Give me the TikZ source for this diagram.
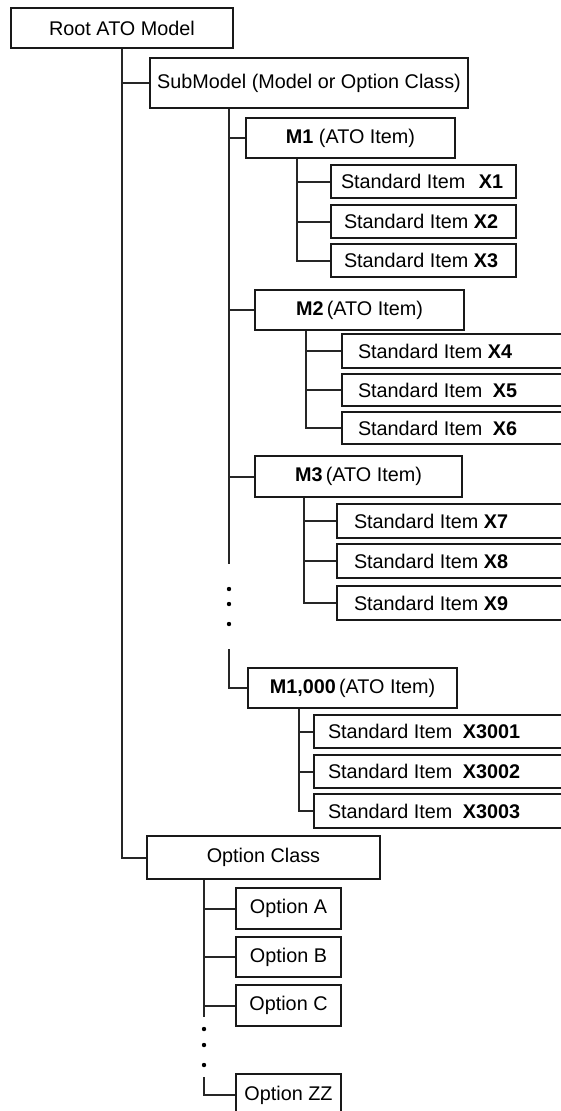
\documentclass[tikz,border=0pt]{standalone}
\usepackage{fontspec}
\setmainfont{Liberation Sans}
\usetikzlibrary{calc}
\newcommand{\stditem}[3]{\makebox[#1pt][l]{\hspace{#2pt}#3}}
\tikzset{
  box/.style={draw=black!90, line width=2pt, rectangle, anchor=north west,
    inner sep=0pt, font=\fontsize{19.8}{23}\selectfont},
  conn/.style={draw=black!85, line width=2pt},
  dotmark/.style={fill=black}
}
\begin{document}
\begin{tikzpicture}[x=1pt,y=-1pt]
\useasboundingbox (0,0) rectangle (561,1111);
\clip (0,0) rectangle (561,1111);
\fill[white] (0,0) rectangle (561,1111);

% top levels
\node[box, minimum width=222pt, minimum height=40pt] (root) at (10,7) {Root ATO Model};
\node[box, minimum width=318pt, minimum height=50pt] (sub) at (149,57) {SubModel (Model or Option Class)};

% M1
\node[box, minimum width=209pt, minimum height=40pt] (m1) at (245,117) {\textbf{M1} (ATO Item)};
\node[box, minimum height=33pt] (x1) at (330,164) {\stditem{185}{10}{Standard Item\hspace{0.4em} \textbf{X1}}};
\node[box, minimum height=33pt] (x2) at (330,204) {\stditem{185}{13}{Standard Item \textbf{X2}}};
\node[box, minimum height=33pt] (x3) at (330,243) {\stditem{185}{13}{Standard Item \textbf{X3}}};

% M2
\node[box, minimum width=209pt, minimum height=40pt] (m2) at (254,289) {\textbf{M2}\,(ATO Item)};
\node[box, minimum height=34pt] (x4) at (341,333) {\stditem{240}{16}{Standard Item \textbf{X4}}};
\node[box, minimum height=32pt] (x5) at (341,373) {\stditem{240}{16}{Standard Item\hspace{0.25em} \textbf{X5}}};
\node[box, minimum height=32pt] (x6) at (341,411) {\stditem{240}{16}{Standard Item\hspace{0.25em} \textbf{X6}}};

% M3
\node[box, minimum width=207pt, minimum height=41pt] (m3) at (254,455) {\textbf{M3}\,(ATO Item)};
\node[box, minimum height=34pt] (x7) at (336,503) {\stditem{240}{17}{Standard Item \textbf{X7}}};
\node[box, minimum height=34pt] (x8) at (336,543) {\stditem{240}{17}{Standard Item \textbf{X8}}};
\node[box, minimum height=34pt] (x9) at (336,585) {\stditem{240}{17}{Standard Item \textbf{X9}}};

% M1,000
\node[box, minimum width=209pt, minimum height=40pt] (m1000) at (247,667) {\textbf{M1,000}\,(ATO Item)};
\node[box, minimum height=33pt] (x3001) at (313,714) {\stditem{260}{14}{Standard Item\hspace{0.25em} \textbf{X3001}}};
\node[box, minimum height=33pt] (x3002) at (313,754) {\stditem{260}{14}{Standard Item\hspace{0.25em} \textbf{X3002}}};
\node[box, minimum height=34pt] (x3003) at (313,793) {\stditem{260}{14}{Standard Item\hspace{0.25em} \textbf{X3003}}};

% Option class
\node[box, minimum width=233pt, minimum height=43pt] (oc) at (146,835) {Option Class};
\node[box, minimum width=105pt, minimum height=41pt] (oa) at (235,887) {Option A};
\node[box, minimum width=105pt, minimum height=40pt] (ob) at (235,936) {Option B};
\node[box, minimum width=105pt, minimum height=41pt] (occ) at (235,984) {Option C};
\node[box, minimum width=105pt, minimum height=42pt] (ozz) at (235,1073) {Option ZZ};

% root trunk
\draw[conn] (root.south) |- (oc.west);
\draw[conn] (root.south |- sub.west) -- (sub.west);

% submodel trunk
\coordinate (st) at ($(sub.south west)+(80,0)$);
\draw[conn] (st) -- ($(st)+(0,455)$);
\fill[dotmark] ($(st)+(0,480)$) circle[radius=2.2pt];
\fill[dotmark] ($(st)+(0,495)$) circle[radius=2.2pt];
\fill[dotmark] ($(st)+(0,515)$) circle[radius=2.2pt];
\draw[conn] ($(st)+(0,540)$) |- (m1000.west);
\draw[conn] (st |- m1.west) -- (m1.west);
\draw[conn] (st |- m2.west) -- (m2.west);
\draw[conn] (st |- m3.west) -- (m3.west);

% M1 trunk
\coordinate (t1) at ($(m1.south west)+(52,0)$);
\draw[conn] (t1) |- (x3.west);
\draw[conn] (t1 |- x1.west) -- (x1.west);
\draw[conn] (t1 |- x2.west) -- (x2.west);

% M2 trunk
\coordinate (t2) at ($(m2.south west)+(52,0)$);
\draw[conn] (t2) |- (x6.west);
\draw[conn] (t2 |- x4.west) -- (x4.west);
\draw[conn] (t2 |- x5.west) -- (x5.west);

% M3 trunk
\coordinate (t3) at ($(m3.south west)+(50,0)$);
\draw[conn] (t3) |- (x9.west);
\draw[conn] (t3 |- x7.west) -- (x7.west);
\draw[conn] (t3 |- x8.west) -- (x8.west);

% M1000 trunk
\coordinate (t4) at ($(m1000.south west)+(52,0)$);
\draw[conn] (t4) |- (x3003.west);
\draw[conn] (t4 |- x3001.west) -- (x3001.west);
\draw[conn] (t4 |- x3002.west) -- (x3002.west);

% option class trunk
\coordinate (ot) at ($(oc.south west)+(58,0)$);
\draw[conn] (ot) -- ($(ot)+(0,137)$);
\fill[dotmark] ($(ot)+(0,149)$) circle[radius=2.2pt];
\fill[dotmark] ($(ot)+(0,165)$) circle[radius=2.2pt];
\fill[dotmark] ($(ot)+(0,185)$) circle[radius=2.2pt];
\draw[conn] ($(ot)+(0,197)$) |- (ozz.west);
\draw[conn] (ot |- oa.west) -- (oa.west);
\draw[conn] (ot |- ob.west) -- (ob.west);
\draw[conn] (ot |- occ.west) -- (occ.west);
\end{tikzpicture}
\end{document}
